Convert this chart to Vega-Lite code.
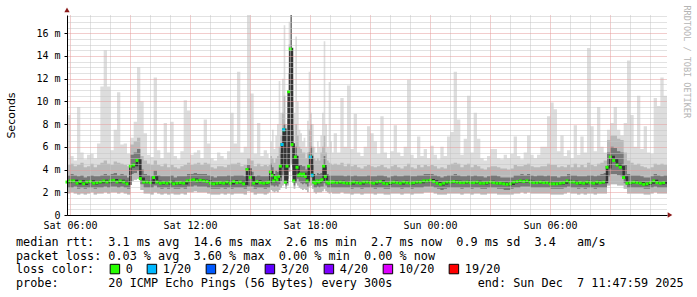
{
"$schema":"https://vega.github.io/schema/vega-lite/v6.json",
"width":600,"height":200,
"autosize":{"type":"none"},
"padding":{"left":67,"top":15,"right":30,"bottom":82},
"background":"#ffffff",
"data":{"values":[
{"t":351,"a":1.9,"b":2.4,"c":3.5,"d":4.4,"h":8.8,"m":2.9},
{"t":361,"a":2.0,"b":2.4,"c":3.6,"d":4.5,"h":5.2,"m":3.0},
{"t":371,"a":1.9,"b":2.5,"c":3.5,"d":4.3,"h":4.8,"m":3.0},
{"t":381,"a":1.8,"b":2.3,"c":3.4,"d":4.4,"h":9.5,"m":2.8},
{"t":391,"a":1.9,"b":2.4,"c":3.5,"d":4.6,"h":5.5,"m":2.95},
{"t":401,"a":1.8,"b":2.3,"c":3.3,"d":4.2,"h":4.9,"m":2.75},
{"t":411,"a":1.9,"b":2.4,"c":3.4,"d":4.3,"h":5.3,"m":2.9},
{"t":421,"a":2.0,"b":2.4,"c":3.5,"d":4.5,"h":5.4,"m":2.95},
{"t":431,"a":1.8,"b":2.3,"c":3.4,"d":4.2,"h":5.0,"m":2.8},
{"t":441,"a":1.9,"b":2.4,"c":3.4,"d":4.4,"h":6.3,"m":2.85},
{"t":451,"a":1.9,"b":2.4,"c":3.5,"d":4.6,"h":11.3,"m":2.9},
{"t":461,"a":2.0,"b":2.5,"c":3.6,"d":4.8,"h":14.5,"m":3.0},
{"t":471,"a":1.9,"b":2.4,"c":3.5,"d":4.5,"h":11.3,"m":2.9},
{"t":481,"a":2.0,"b":2.5,"c":3.6,"d":4.4,"h":5.7,"m":3.0},
{"t":491,"a":2.0,"b":2.5,"c":3.7,"d":4.7,"h":7.5,"m":3.05},
{"t":501,"a":1.9,"b":2.4,"c":3.5,"d":4.6,"h":10.8,"m":2.9},
{"t":511,"a":2.0,"b":2.5,"c":3.6,"d":4.5,"h":6.2,"m":3.0},
{"t":521,"a":1.9,"b":2.4,"c":3.5,"d":4.4,"h":6.3,"m":2.9},
{"t":531,"a":1.8,"b":2.3,"c":3.3,"d":4.3,"h":5.4,"m":2.75},
{"t":541,"a":3.0,"b":3.6,"c":5.3,"d":6.2,"h":6.8,"m":4.3},
{"t":551,"a":3.1,"b":3.7,"c":5.5,"d":6.5,"h":8.2,"m":4.4},
{"t":561,"a":3.2,"b":3.9,"c":5.8,"d":6.8,"h":13.0,"m":4.8},
{"t":571,"a":2.2,"b":2.7,"c":4.0,"d":5.2,"h":10.0,"m":3.2},
{"t":581,"a":1.9,"b":2.4,"c":3.6,"d":4.8,"h":7.2,"m":2.9},
{"t":591,"a":1.9,"b":2.4,"c":3.5,"d":4.5,"h":5.3,"m":2.9},
{"t":601,"a":1.8,"b":2.4,"c":3.4,"d":4.4,"h":5.1,"m":2.85},
{"t":611,"a":2.0,"b":2.6,"c":3.9,"d":4.8,"h":12.1,"m":3.3},
{"t":621,"a":1.9,"b":2.4,"c":3.5,"d":4.4,"h":5.7,"m":2.9},
{"t":631,"a":1.8,"b":2.3,"c":3.4,"d":4.3,"h":5.0,"m":2.8},
{"t":641,"a":1.9,"b":2.4,"c":3.4,"d":4.5,"h":8.1,"m":2.85},
{"t":651,"a":1.8,"b":2.3,"c":3.4,"d":4.2,"h":5.5,"m":2.8},
{"t":661,"a":1.9,"b":2.4,"c":3.5,"d":4.4,"h":8.2,"m":2.9},
{"t":671,"a":1.8,"b":2.3,"c":3.3,"d":4.2,"h":5.2,"m":2.75},
{"t":681,"a":1.8,"b":2.3,"c":3.4,"d":4.1,"h":4.9,"m":2.8},
{"t":691,"a":1.9,"b":2.4,"c":3.4,"d":4.3,"h":5.6,"m":2.85},
{"t":701,"a":1.8,"b":2.3,"c":3.4,"d":4.4,"h":10.1,"m":2.8},
{"t":711,"a":2.0,"b":2.5,"c":3.6,"d":4.6,"h":9.2,"m":3.0},
{"t":721,"a":2.0,"b":2.5,"c":3.6,"d":4.4,"h":5.3,"m":3.05},
{"t":731,"a":2.1,"b":2.6,"c":3.7,"d":4.5,"h":5.5,"m":3.1},
{"t":741,"a":2.0,"b":2.5,"c":3.6,"d":4.6,"h":5.7,"m":3.0},
{"t":751,"a":2.0,"b":2.5,"c":3.6,"d":4.4,"h":5.0,"m":3.05},
{"t":761,"a":2.0,"b":2.5,"c":3.6,"d":4.6,"h":8.4,"m":3.0},
{"t":771,"a":1.9,"b":2.4,"c":3.5,"d":4.5,"h":6.3,"m":2.95},
{"t":781,"a":1.8,"b":2.3,"c":3.4,"d":4.2,"h":5.0,"m":2.8},
{"t":791,"a":1.8,"b":2.3,"c":3.3,"d":4.1,"h":4.8,"m":2.75},
{"t":801,"a":1.8,"b":2.3,"c":3.4,"d":4.3,"h":5.5,"m":2.8},
{"t":811,"a":1.9,"b":2.4,"c":3.4,"d":4.3,"h":5.2,"m":2.85},
{"t":821,"a":1.8,"b":2.3,"c":3.4,"d":4.2,"h":4.9,"m":2.8},
{"t":831,"a":1.9,"b":2.4,"c":3.5,"d":4.4,"h":5.6,"m":2.9},
{"t":841,"a":1.8,"b":2.3,"c":3.4,"d":4.5,"h":9.0,"m":2.8},
{"t":851,"a":1.9,"b":2.4,"c":3.5,"d":4.5,"h":6.3,"m":2.95},
{"t":861,"a":1.9,"b":2.4,"c":3.5,"d":4.6,"h":12.6,"m":2.85},
{"t":871,"a":1.9,"b":2.4,"c":3.5,"d":4.3,"h":5.5,"m":2.9},
{"t":881,"a":1.8,"b":2.3,"c":3.4,"d":4.4,"h":6.0,"m":2.75},
{"t":891,"a":2.1,"b":2.5,"c":4.4,"d":5.0,"h":17.6,"m":4.0},
{"t":901,"a":2.0,"b":2.5,"c":3.8,"d":4.8,"h":10.7,"m":3.3},
{"t":911,"a":1.8,"b":2.3,"c":3.4,"d":4.3,"h":5.4,"m":2.8},
{"t":921,"a":1.9,"b":2.4,"c":3.5,"d":4.5,"h":8.1,"m":2.95},
{"t":931,"a":1.9,"b":2.4,"c":3.4,"d":4.3,"h":5.2,"m":2.85},
{"t":941,"a":1.8,"b":2.3,"c":3.4,"d":4.4,"h":5.7,"m":2.8},
{"t":951,"a":1.9,"b":2.4,"c":3.4,"d":4.3,"h":5.4,"m":2.85},
{"t":956,"a":2.0,"b":2.4,"c":3.5,"d":4.4,"h":5.0,"m":2.9},
{"t":961,"a":2.2,"b":2.6,"c":4.5,"d":5.2,"h":6.5,"m":3.8},
{"t":966,"a":2.1,"b":2.6,"c":4.2,"d":5.0,"h":7.5,"m":3.5},
{"t":971,"a":2.0,"b":2.5,"c":3.6,"d":4.6,"h":5.8,"m":3.0},
{"t":976,"a":2.1,"b":2.6,"c":3.9,"d":5.0,"h":7.0,"m":3.3},
{"t":981,"a":2.0,"b":2.5,"c":3.8,"d":5.2,"h":8.0,"m":3.1},
{"t":986,"a":2.2,"b":2.7,"c":4.2,"d":6.0,"h":11.8,"m":3.4},
{"t":991,"a":2.4,"b":3.0,"c":5.5,"d":7.0,"h":9.0,"m":4.3},
{"t":996,"a":2.6,"b":3.5,"c":7.0,"d":9.0,"h":12.0,"m":6.2,"l":"1/20"},
{"t":1001,"a":2.8,"b":3.8,"c":8.0,"d":10.5,"h":16.7,"m":7.5,"l":"1/20"},
{"t":1006,"a":2.3,"b":2.6,"c":4.0,"d":6.0,"h":8.0,"m":2.9},
{"t":1011,"a":2.6,"b":3.2,"c":6.0,"d":8.5,"h":10.0,"m":4.3},
{"t":1016,"a":3.8,"b":5.0,"c":12.5,"d":15.0,"h":17.0,"m":10.85},
{"t":1021,"a":4.5,"b":6.0,"c":17.6,"d":17.6,"h":17.6,"m":14.6},
{"t":1026,"a":3.5,"b":4.2,"c":7.5,"d":10.0,"h":12.0,"m":6.2},
{"t":1031,"a":2.3,"b":2.6,"c":4.0,"d":6.0,"h":9.0,"m":3.0},
{"t":1036,"a":2.8,"b":3.6,"c":6.0,"d":8.0,"h":15.7,"m":5.1},
{"t":1041,"a":2.6,"b":3.2,"c":5.2,"d":7.0,"h":10.0,"m":4.2},
{"t":1046,"a":2.4,"b":2.9,"c":4.4,"d":6.0,"h":7.5,"m":3.5},
{"t":1051,"a":2.3,"b":2.8,"c":4.4,"d":5.8,"h":7.2,"m":3.6},
{"t":1056,"a":2.2,"b":2.7,"c":4.3,"d":5.5,"h":6.5,"m":3.5},
{"t":1061,"a":2.3,"b":2.8,"c":4.3,"d":5.5,"h":6.8,"m":3.6},
{"t":1066,"a":2.2,"b":2.7,"c":4.0,"d":5.0,"h":6.0,"m":3.4},
{"t":1071,"a":2.0,"b":2.5,"c":3.8,"d":5.5,"h":8.3,"m":3.0},
{"t":1076,"a":2.5,"b":3.0,"c":5.5,"d":7.5,"h":12.6,"m":4.3},
{"t":1081,"a":2.6,"b":3.3,"c":6.0,"d":8.0,"h":9.0,"m":5.1,"l":"1/20"},
{"t":1086,"a":2.3,"b":2.8,"c":4.4,"d":6.0,"h":8.0,"m":3.5,"l":"1/20"},
{"t":1091,"a":2.0,"b":2.4,"c":3.6,"d":5.0,"h":6.0,"m":2.9},
{"t":1096,"a":1.9,"b":2.4,"c":3.5,"d":4.8,"h":5.5,"m":2.8},
{"t":1101,"a":2.0,"b":2.5,"c":3.7,"d":5.0,"h":6.5,"m":3.0},
{"t":1106,"a":2.0,"b":2.4,"c":3.6,"d":4.8,"h":6.0,"m":2.9},
{"t":1111,"a":2.0,"b":2.5,"c":3.7,"d":5.5,"h":7.0,"m":3.0},
{"t":1116,"a":2.1,"b":2.5,"c":4.0,"d":6.0,"h":9.0,"m":3.1},
{"t":1121,"a":2.3,"b":2.8,"c":5.2,"d":7.0,"h":15.3,"m":4.3},
{"t":1126,"a":2.1,"b":2.6,"c":4.2,"d":5.5,"h":8.0,"m":3.4},
{"t":1131,"a":2.0,"b":2.4,"c":3.6,"d":4.8,"h":6.0,"m":2.9},
{"t":1136,"a":1.9,"b":2.4,"c":3.5,"d":4.6,"h":11.7,"m":2.8},
{"t":1141,"a":2.0,"b":2.4,"c":3.5,"d":4.5,"h":6.5,"m":2.9},
{"t":1146,"a":1.9,"b":2.4,"c":3.5,"d":4.4,"h":5.5,"m":2.9},
{"t":1151,"a":1.9,"b":2.4,"c":3.5,"d":4.5,"h":7.2,"m":2.9},
{"t":1161,"a":1.9,"b":2.4,"c":3.5,"d":4.4,"h":5.5,"m":2.85},
{"t":1171,"a":2.0,"b":2.4,"c":3.5,"d":4.6,"h":10.3,"m":2.9},
{"t":1181,"a":1.9,"b":2.4,"c":3.4,"d":4.3,"h":6.0,"m":2.85},
{"t":1191,"a":1.9,"b":2.4,"c":3.5,"d":4.5,"h":11.4,"m":2.8},
{"t":1201,"a":1.8,"b":2.3,"c":3.4,"d":4.3,"h":5.8,"m":2.8},
{"t":1211,"a":1.9,"b":2.4,"c":3.5,"d":4.4,"h":8.9,"m":2.9},
{"t":1221,"a":1.9,"b":2.4,"c":3.4,"d":4.2,"h":5.5,"m":2.85},
{"t":1231,"a":1.8,"b":2.3,"c":3.4,"d":4.1,"h":5.2,"m":2.8},
{"t":1241,"a":1.9,"b":2.4,"c":3.4,"d":4.3,"h":6.0,"m":2.9},
{"t":1251,"a":1.9,"b":2.4,"c":3.5,"d":4.4,"h":7.8,"m":2.9},
{"t":1261,"a":1.9,"b":2.4,"c":3.4,"d":4.3,"h":7.2,"m":2.85},
{"t":1271,"a":1.8,"b":2.3,"c":3.4,"d":4.2,"h":6.5,"m":2.8},
{"t":1281,"a":1.9,"b":2.4,"c":3.5,"d":4.3,"h":5.4,"m":2.9},
{"t":1291,"a":1.9,"b":2.4,"c":3.5,"d":4.4,"h":8.7,"m":2.95},
{"t":1301,"a":1.8,"b":2.3,"c":3.4,"d":4.2,"h":5.5,"m":2.8},
{"t":1311,"a":1.8,"b":2.3,"c":3.3,"d":4.1,"h":5.0,"m":2.75},
{"t":1321,"a":1.9,"b":2.4,"c":3.4,"d":4.3,"h":5.6,"m":2.85},
{"t":1331,"a":1.9,"b":2.4,"c":3.5,"d":4.4,"h":7.9,"m":2.9},
{"t":1341,"a":1.9,"b":2.4,"c":3.4,"d":4.2,"h":5.5,"m":2.85},
{"t":1351,"a":1.8,"b":2.3,"c":3.4,"d":4.1,"h":5.2,"m":2.8},
{"t":1361,"a":1.9,"b":2.4,"c":3.5,"d":4.3,"h":6.0,"m":2.9},
{"t":1371,"a":1.9,"b":2.4,"c":3.5,"d":4.5,"h":11.9,"m":2.85},
{"t":1381,"a":1.8,"b":2.3,"c":3.4,"d":4.2,"h":5.3,"m":2.8},
{"t":1391,"a":1.9,"b":2.4,"c":3.4,"d":4.1,"h":5.0,"m":2.85},
{"t":1401,"a":1.9,"b":2.4,"c":3.5,"d":4.4,"h":6.9,"m":2.9},
{"t":1411,"a":1.9,"b":2.4,"c":3.5,"d":4.2,"h":5.2,"m":2.9},
{"t":1421,"a":2.0,"b":2.5,"c":3.6,"d":4.4,"h":5.8,"m":3.0},
{"t":1431,"a":2.0,"b":2.5,"c":3.6,"d":4.3,"h":5.0,"m":3.0},
{"t":1441,"a":2.0,"b":2.5,"c":3.6,"d":4.4,"h":6.1,"m":3.05},
{"t":1451,"a":1.9,"b":2.4,"c":3.5,"d":4.3,"h":5.3,"m":2.95},
{"t":1461,"a":1.8,"b":2.3,"c":3.4,"d":4.1,"h":4.9,"m":2.8},
{"t":1471,"a":1.8,"b":2.2,"c":3.3,"d":4.2,"h":6.0,"m":2.7},
{"t":1481,"a":1.8,"b":2.3,"c":3.4,"d":4.1,"h":5.2,"m":2.8},
{"t":1491,"a":1.9,"b":2.4,"c":3.5,"d":4.4,"h":6.9,"m":2.9},
{"t":1501,"a":1.9,"b":2.4,"c":3.5,"d":4.5,"h":7.3,"m":2.9},
{"t":1511,"a":1.9,"b":2.4,"c":3.6,"d":4.6,"h":12.6,"m":2.95},
{"t":1521,"a":1.9,"b":2.4,"c":3.5,"d":4.5,"h":8.4,"m":2.9},
{"t":1531,"a":1.8,"b":2.3,"c":3.4,"d":4.2,"h":5.3,"m":2.85},
{"t":1541,"a":1.9,"b":2.4,"c":3.4,"d":4.4,"h":6.7,"m":2.85},
{"t":1551,"a":1.9,"b":2.4,"c":3.5,"d":4.5,"h":10.5,"m":2.9},
{"t":1561,"a":1.8,"b":2.3,"c":3.4,"d":4.2,"h":5.5,"m":2.85},
{"t":1571,"a":1.9,"b":2.4,"c":3.5,"d":4.4,"h":9.0,"m":2.85},
{"t":1581,"a":1.9,"b":2.4,"c":3.4,"d":4.3,"h":6.7,"m":2.9},
{"t":1591,"a":1.8,"b":2.3,"c":3.4,"d":4.1,"h":5.0,"m":2.8},
{"t":1601,"a":1.8,"b":2.3,"c":3.3,"d":4.0,"h":4.8,"m":2.8},
{"t":1611,"a":1.9,"b":2.4,"c":3.4,"d":4.2,"h":5.2,"m":2.85},
{"t":1621,"a":1.9,"b":2.4,"c":3.5,"d":4.3,"h":5.8,"m":2.9},
{"t":1631,"a":1.9,"b":2.4,"c":3.5,"d":4.3,"h":5.8,"m":2.85},
{"t":1641,"a":1.8,"b":2.3,"c":3.4,"d":4.2,"h":5.0,"m":2.8},
{"t":1651,"a":1.8,"b":2.3,"c":3.3,"d":4.1,"h":4.9,"m":2.8},
{"t":1661,"a":1.8,"b":2.2,"c":3.3,"d":4.1,"h":5.3,"m":2.75},
{"t":1671,"a":1.8,"b":2.2,"c":3.3,"d":4.0,"h":5.0,"m":2.7},
{"t":1681,"a":1.8,"b":2.3,"c":3.3,"d":4.1,"h":5.4,"m":2.75},
{"t":1691,"a":1.9,"b":2.4,"c":3.5,"d":4.4,"h":6.9,"m":2.9},
{"t":1701,"a":1.9,"b":2.4,"c":3.5,"d":4.3,"h":5.2,"m":2.95},
{"t":1711,"a":2.0,"b":2.5,"c":3.6,"d":4.3,"h":4.9,"m":3.0},
{"t":1721,"a":1.9,"b":2.5,"c":3.5,"d":4.4,"h":5.5,"m":2.95},
{"t":1731,"a":2.0,"b":2.5,"c":3.6,"d":4.5,"h":7.0,"m":3.0},
{"t":1741,"a":1.9,"b":2.4,"c":3.5,"d":4.3,"h":5.3,"m":2.9},
{"t":1751,"a":1.9,"b":2.4,"c":3.4,"d":4.2,"h":5.0,"m":2.85},
{"t":1761,"a":1.9,"b":2.4,"c":3.5,"d":4.2,"h":5.3,"m":2.85},
{"t":1771,"a":1.9,"b":2.4,"c":3.5,"d":4.3,"h":6.0,"m":2.9},
{"t":1781,"a":1.9,"b":2.4,"c":3.4,"d":4.3,"h":6.0,"m":2.85},
{"t":1791,"a":1.9,"b":2.4,"c":3.5,"d":4.5,"h":8.7,"m":2.85},
{"t":1801,"a":1.8,"b":2.3,"c":3.4,"d":4.4,"h":9.9,"m":2.75},
{"t":1811,"a":1.8,"b":2.3,"c":3.4,"d":4.4,"h":9.3,"m":2.75},
{"t":1821,"a":1.8,"b":2.3,"c":3.3,"d":4.2,"h":5.6,"m":2.75},
{"t":1831,"a":1.8,"b":2.3,"c":3.4,"d":4.3,"h":7.0,"m":2.8},
{"t":1841,"a":1.9,"b":2.4,"c":3.4,"d":4.2,"h":5.2,"m":2.85},
{"t":1851,"a":2.0,"b":2.5,"c":3.6,"d":4.4,"h":5.7,"m":3.0},
{"t":1861,"a":1.9,"b":2.4,"c":3.5,"d":4.2,"h":5.0,"m":2.9},
{"t":1871,"a":1.9,"b":2.4,"c":3.5,"d":4.5,"h":7.9,"m":2.9},
{"t":1881,"a":1.8,"b":2.3,"c":3.4,"d":4.2,"h":5.3,"m":2.8},
{"t":1891,"a":1.9,"b":2.4,"c":3.4,"d":4.4,"h":6.9,"m":2.85},
{"t":1901,"a":1.8,"b":2.3,"c":3.4,"d":4.2,"h":5.5,"m":2.8},
{"t":1911,"a":1.9,"b":2.4,"c":3.5,"d":4.6,"h":14.7,"m":2.9},
{"t":1921,"a":1.9,"b":2.4,"c":3.5,"d":4.4,"h":7.8,"m":2.85},
{"t":1931,"a":1.8,"b":2.3,"c":3.4,"d":4.3,"h":5.6,"m":2.8},
{"t":1941,"a":1.9,"b":2.4,"c":3.5,"d":4.5,"h":9.5,"m":2.9},
{"t":1951,"a":1.9,"b":2.4,"c":3.6,"d":4.6,"h":6.0,"m":2.85},
{"t":1961,"a":1.9,"b":2.4,"c":3.7,"d":4.8,"h":5.5,"m":2.9},
{"t":1971,"a":2.6,"b":3.4,"c":5.5,"d":6.6,"h":7.5,"m":4.2},
{"t":1981,"a":2.7,"b":3.6,"c":6.0,"d":7.0,"h":8.1,"m":5.1},
{"t":1991,"a":2.7,"b":3.6,"c":5.9,"d":7.0,"h":9.5,"m":4.8},
{"t":2001,"a":2.6,"b":3.5,"c":5.6,"d":6.7,"h":7.5,"m":4.4},
{"t":2011,"a":2.6,"b":3.4,"c":5.5,"d":6.6,"h":7.0,"m":4.2},
{"t":2021,"a":2.3,"b":2.8,"c":4.4,"d":5.5,"h":8.1,"m":3.3},
{"t":2031,"a":1.9,"b":2.4,"c":3.6,"d":4.8,"h":13.6,"m":2.8},
{"t":2041,"a":1.9,"b":2.4,"c":3.5,"d":4.6,"h":8.8,"m":2.85},
{"t":2051,"a":1.9,"b":2.4,"c":3.5,"d":4.4,"h":6.0,"m":2.9},
{"t":2061,"a":1.9,"b":2.4,"c":3.5,"d":4.5,"h":10.5,"m":2.85},
{"t":2071,"a":1.9,"b":2.4,"c":3.4,"d":4.3,"h":5.8,"m":2.8},
{"t":2081,"a":1.8,"b":2.3,"c":3.3,"d":4.2,"h":7.8,"m":2.7},
{"t":2091,"a":1.8,"b":2.3,"c":3.3,"d":4.1,"h":5.5,"m":2.75},
{"t":2101,"a":1.9,"b":2.4,"c":3.4,"d":4.2,"h":5.4,"m":2.85},
{"t":2111,"a":2.0,"b":2.5,"c":3.6,"d":4.5,"h":10.3,"m":3.0},
{"t":2121,"a":1.9,"b":2.4,"c":3.5,"d":4.4,"h":9.6,"m":2.85},
{"t":2131,"a":1.9,"b":2.4,"c":3.4,"d":4.5,"h":12.1,"m":2.8},
{"t":2141,"a":1.9,"b":2.4,"c":3.5,"d":4.4,"h":10.5,"m":2.85},
{"t":2151,"a":1.9,"b":2.4,"c":3.5,"d":4.4,"h":10.5,"m":2.85}
]},
"resolve":{"axis":{"x":"independent","y":"independent"}},
"layer":[
{"mark":{"type":"area","interpolate":"step-after","color":"#dddddd","opacity":1},
 "encoding":{
  "x":{"field":"t","type":"quantitative","scale":{"domain":[351,2151],"nice":false,"zero":false},
       "axis":{"orient":"bottom","values":[420,480,600,660,780,840,960,1020,1140,1200,1320,1380,1500,1560,1680,1740,1860,1920,2040,2100],"grid":true,"gridColor":"#c4c4c4","gridDash":[1,1],"gridWidth":1,"labels":false,"ticks":false,"domain":false,"title":null,"zindex":1}},
  "y":{"field":"a","type":"quantitative","scale":{"domain":[0,17.6],"nice":false,"zero":false},
       "axis":{"orient":"left","values":[0.5,1,1.5,2.5,3,3.5,4.5,5,5.5,6.5,7,7.5,8.5,9,9.5,10.5,11,11.5,12.5,13,13.5,14.5,15,15.5,16.5,17,17.5],"grid":true,"gridColor":"#c4c4c4","gridDash":[1,1],"gridWidth":1,"labels":false,"ticks":false,"domain":false,"title":null,"zindex":1}},
  "y2":{"field":"h"}}},
{"mark":{"type":"area","interpolate":"step-after","color":"#b9b9b9","opacity":1},
 "encoding":{
  "x":{"field":"t","type":"quantitative",
       "axis":{"orient":"bottom","values":[360,540,720,900,1080,1260,1440,1620,1800,1980],"grid":true,"gridColor":"#e49a9a","gridDash":[1,1],"gridWidth":1,"ticks":false,"domain":true,"domainColor":"#000000","domainWidth":1,"title":null,"zindex":1,"labelFont":"DejaVu Sans Mono","labelFontSize":10,"labelColor":"#000000","labelPadding":5,"labelOverlap":false,"labelFlush":false,
               "labelExpr":"datum.value==360?'Sat 06:00':datum.value==720?'Sat 12:00':datum.value==1080?'Sat 18:00':datum.value==1440?'Sun 00:00':datum.value==1800?'Sun 06:00':''"}},
  "y":{"field":"a","type":"quantitative",
       "axis":{"orient":"left","values":[0,2,4,6,8,10,12,14,16],"grid":true,"gridColor":"#e49a9a","gridDash":[1,1],"gridWidth":1,"ticks":true,"tickSize":3,"tickColor":"#000000","domain":true,"domainColor":"#000000","domainWidth":1,"zindex":1,"labelFont":"DejaVu Sans Mono","labelFontSize":10,"labelColor":"#000000","labelPadding":4,"labelOverlap":false,"labelFlush":false,
               "labelExpr":"datum.value==0?'0':datum.value+' m'",
               "title":"Seconds","titleFont":"DejaVu Sans","titleFontSize":11,"titleFontWeight":"normal","titleColor":"#000000","titlePadding":19}},
  "y2":{"field":"d"}}},
{"mark":{"type":"area","interpolate":"step-after","color":"#787878","opacity":1},
 "encoding":{
  "x":{"field":"t","type":"quantitative","axis":null},
  "y":{"field":"b","type":"quantitative",
       "axis":{"orient":"right","title":"RRDTOOL / TOBI OETIKER","labels":false,"ticks":false,"domain":false,"grid":false,"titleFont":"DejaVu Sans Mono","titleFontSize":8.5,"titleFontWeight":"normal","titleColor":"#b4b4b4","titleAngle":90,"titleAlign":"left","titleBaseline":"middle","titleX":19,"titleY":-10}},
  "y2":{"field":"c"}}},
{"mark":{"type":"line","interpolate":"step-after","color":"#333333","strokeWidth":2.5},
 "encoding":{
  "x":{"field":"t","type":"quantitative","axis":null},
  "y":{"field":"m","type":"quantitative","axis":null}}},
{"transform":[{"filter":"datum.t < 2151"}],
 "mark":{"type":"point","shape":"square","filled":true,"color":"#26ff00","size":9,"opacity":1},
 "encoding":{
  "x":{"field":"t","type":"quantitative","axis":null},
  "y":{"field":"m","type":"quantitative","axis":null}}},
{"transform":[{"filter":"datum.l"}],
 "mark":{"type":"point","shape":"square","filled":true,"size":9,"opacity":1},
 "encoding":{
  "x":{"field":"t","type":"quantitative","axis":null},
  "y":{"field":"m","type":"quantitative","axis":null},
  "color":{"field":"l","type":"nominal",
    "scale":{"domain":["0","1/20","2/20","3/20","4/20","10/20","19/20"],"range":["#26ff00","#00b8ff","#0059ff","#5e00ff","#7e00ff","#dd00ff","#ff0000"]},
    "legend":{"orient":"none","legendX":-51,"legendY":248,"direction":"horizontal","title":"loss color:","titleOrient":"left","titleFont":"DejaVu Sans Mono","titleFontSize":11.8,"titleFontWeight":"normal","titleColor":"#000000","titlePadding":14,"titleBaseline":"middle","labelFont":"DejaVu Sans Mono","labelFontSize":11.8,"labelColor":"#000000","symbolType":"square","symbolSize":90,"symbolStrokeColor":"#000000","symbolStrokeWidth":1,"symbolOpacity":1,"labelOffset":5,"columnPadding":12}}}},
{"data":{"values":[{}]},
 "mark":{"type":"point","shape":"triangle-right","filled":true,"color":"#8b1a1a","size":28,"opacity":1},
 "encoding":{"x":{"datum":2160,"type":"quantitative","axis":null},"y":{"datum":0,"type":"quantitative","axis":null}}},
{"data":{"values":[{}]},
 "mark":{"type":"point","shape":"triangle-up","filled":true,"color":"#8b1a1a","size":28,"opacity":1},
 "encoding":{"x":{"datum":351,"type":"quantitative","axis":null},"y":{"datum":18.05,"type":"quantitative","axis":null}}}
],
"title":{"text":["median\u00a0rtt:\u00a0\u00a03.1\u00a0ms\u00a0avg\u00a0\u00a014.6\u00a0ms\u00a0max\u00a0\u00a02.6\u00a0ms\u00a0min\u00a0\u00a02.7\u00a0ms\u00a0now\u00a0\u00a00.9\u00a0ms\u00a0sd\u00a0\u00a03.4\u00a0\u00a0\u00a0am/s",
"packet\u00a0loss:\u00a00.03\u00a0%\u00a0avg\u00a0\u00a03.60\u00a0%\u00a0max\u00a0\u00a00.00\u00a0%\u00a0min\u00a0\u00a00.00\u00a0%\u00a0now"],
 "subtitle":"probe:\u00a0\u00a0\u00a0\u00a0\u00a0\u00a0\u00a020\u00a0ICMP\u00a0Echo\u00a0Pings\u00a0(56\u00a0Bytes)\u00a0every\u00a0300s\u00a0\u00a0\u00a0\u00a0\u00a0\u00a0\u00a0\u00a0\u00a0\u00a0\u00a0\u00a0end:\u00a0Sun\u00a0Dec\u00a0\u00a07\u00a011:47:59\u00a02025",
 "orient":"bottom","anchor":"start","frame":"group","dx":-51,"offset":-39,"font":"DejaVu Sans Mono","fontSize":11.8,"fontWeight":"normal","color":"#000000","lineHeight":14.3,
 "subtitleFont":"DejaVu Sans Mono","subtitleFontSize":11.8,"subtitleFontWeight":"normal","subtitleColor":"#000000","subtitleLineHeight":14.3,"subtitlePadding":15},
"config":{"view":{"stroke":null},"axis":{"titleFontWeight":"normal"}}
}
